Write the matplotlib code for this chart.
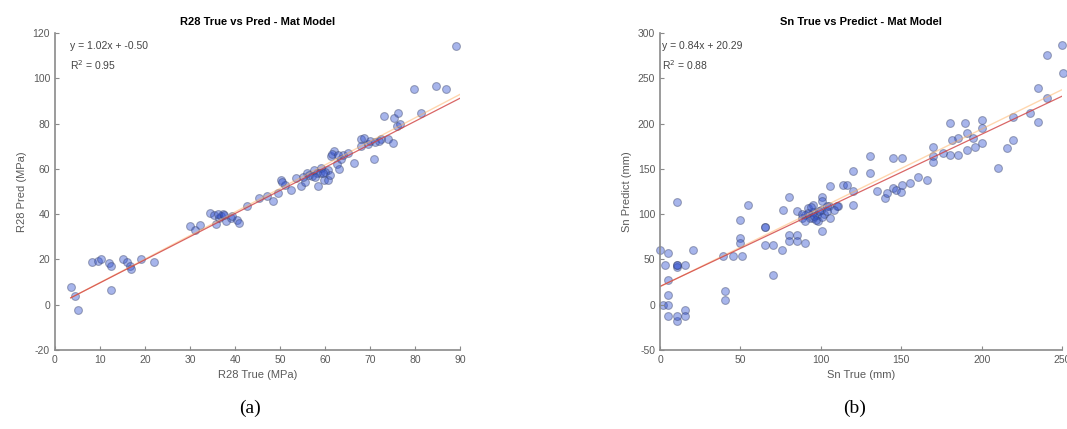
import numpy as np
import matplotlib
matplotlib.use("Agg")
import matplotlib.pyplot as plt

plt.rcParams['font.family'] = ['Liberation Sans', 'DejaVu Sans']
plt.rcParams['axes.unicode_minus'] = False

# R28 data (MPa)
r28_true = [3.5, 4.5, 5.2, 8.2, 9.5, 10.2, 12.0, 12.4, 12.4, 15.2, 16.0, 16.7, 16.9, 19.0, 22.0,
            30.0, 31.0, 32.3, 34.5, 35.3, 35.8, 36.5, 36.8, 37.2, 38.0, 39.0, 39.3, 40.4, 40.8, 42.7,
            45.3, 47.1, 48.5, 49.4, 50.1, 51.0, 52.3, 53.5, 54.6, 55.5, 56.0, 57.0, 57.5, 58.2, 58.3,
            59.0, 59.8, 60.5, 60.5, 61.0, 61.2, 62.0, 62.5, 63.5, 64.0, 65.0, 66.4, 67.9, 68.6, 69.5,
            70.9, 71.0, 72.4, 73.1, 73.9, 75.0, 75.3, 76.0, 76.1, 76.5, 79.8, 81.3, 84.6, 86.9, 89.1,
            36.2, 37.5, 56.5, 58.8, 60.0, 61.5, 62.8, 63.0, 59.5, 57.8, 70.0, 72.0, 68.0, 50.5, 55.0]
r28_pred = [8.0, 4.0, -2.2, 19.0, 19.5, 20.0, 18.5, 17.0, 6.5, 20.2, 19.0, 17.0, 15.7, 20.0, 18.7,
            34.6, 33.0, 35.4, 40.5, 39.8, 35.5, 38.5, 39.0, 40.0, 37.0, 38.4, 39.0, 37.4, 36.0, 43.5,
            47.2, 48.0, 46.0, 49.4, 55.3, 53.0, 50.9, 56.0, 52.3, 54.0, 58.3, 57.0, 59.7, 58.3, 52.3,
            60.5, 55.3, 59.7, 55.3, 57.5, 65.6, 67.8, 62.0, 64.2, 66.0, 67.1, 62.7, 73.0, 73.7, 71.0,
            64.2, 72.0, 73.0, 83.3, 73.0, 71.5, 82.5, 79.0, 84.8, 80.0, 95.1, 84.8, 96.6, 95.1, 114.3,
            40.0, 39.5, 57.5, 58.0, 58.5, 66.5, 66.0, 60.0, 58.0, 56.5, 72.5, 72.5, 70.0, 54.0, 56.5]

# Sn data (mm)
sn_true = [0, 5.2, 3.1, 10.4, 10.4, 15.5, 10.4, 20.3, 5.2, 5.2, 2, 5.2, 5.2, 10.4, 10.4, 15.5, 15.5,
           40.4, 40.4, 39.4, 45.6, 50.8, 49.8, 49.8, 49.8, 54.9, 65.3, 65.3, 70.5, 75.7, 70.5,
           80.4, 80.4, 85, 85, 90.2, 80.4, 76.7, 85, 90.2, 92.2, 95.3, 100.6, 100.6, 105.7, 105.7,
           114, 110.9, 88.1, 93.3, 97.5, 90, 95, 100, 98, 102, 95, 105, 109.9, 103.7, 100.6,
           120.2, 116.1, 120.2, 120.2, 130.6, 130.6, 134.8, 139.9, 141, 145.1, 147, 150, 150.3,
           155.5, 160.6, 166, 145.1, 150.3, 170, 170, 170, 176.2, 180.3, 189.7, 200, 200, 200,
           194.8, 190.7, 185.5, 181.4, 180.3, 185.5, 190.7, 195.9, 210.4, 215.6, 219.7, 219.7,
           230.1, 235.3, 235.3, 240.5, 240.5, 249.8, 250.4,
           92, 96, 99, 101, 104, 88, 94, 97, 108, 65, 10.4]
sn_pred = [60.7, 57, 44, 44, 42, 44, 114, 60.7, 27.6, 11, 0, 0, -12.9, -18.4, -12.9, -5.5, -12.9,
           14.7, 5.5, 53.3, 53.3, 53.3, 73.6, 68, 93.8, 110.4, 86.4, 66.2, 66.2, 60.7, 33.1,
           77.3, 69.9, 77.3, 69.9, 68.1, 119.5, 104.9, 103, 99.3, 106.7, 110.4, 119.5, 80.9, 130.6, 95.7,
           132.5, 108.5, 95.7, 95.7, 99.3, 92, 102, 105, 93, 100, 96, 108.5, 108.5, 108.5, 115,
           147.2, 132.5, 125.1, 110.4, 163.7, 145.4, 125.1, 117.4, 123.3, 128.8, 127, 125, 132.5,
           134, 141.6, 138, 161.8, 161.8, 174.7, 163.7, 158, 167.4, 201.2, 201.2, 204.2, 195, 178.5,
           183.7, 189.2, 183.7, 182, 165.6, 165.6, 171, 174.7, 150.6, 172.6, 182, 207.8,
           211.5, 202.3, 238.8, 228, 276, 287, 255.7,
           101, 98, 104, 97, 103, 100, 108, 94, 105, 86.4, 44]

fig = plt.figure(figsize=(10.67, 4.29), dpi=100)
ax1 = fig.add_axes([0.0515, 0.184, 0.380, 0.739])
ax2 = fig.add_axes([0.6186, 0.184, 0.3768, 0.739])

gray = '#5a5a5a'
face = '#2f4fd0'
edge = '#3a4468'


def style(ax):
    for s in ['top', 'right']:
        ax.spines[s].set_visible(False)
    for s in ['left', 'bottom']:
        ax.spines[s].set_color('#8a8a8a')
        ax.spines[s].set_linewidth(1.2)
    ax.tick_params(direction='in', colors='#8a8a8a', labelcolor=gray, labelsize=7.5, length=3)


# left panel
ax1.scatter(r28_true, r28_pred, s=32, facecolor=face, edgecolor=edge,
            alpha=0.42, linewidths=0.8)
xl = np.array([3.5, 90])
ax1.plot(xl, 1.04 * xl - 0.6, color='#ffb060', lw=1.0, alpha=0.5)
ax1.plot(xl, 1.02 * xl - 0.50, color='#d04040', lw=0.9, alpha=0.8)
ax1.set_xlim(0, 90)
ax1.set_ylim(-20, 120)
ax1.set_xticks(range(0, 91, 10))
ax1.set_yticks(range(-20, 121, 20))
style(ax1)
ax1.set_title('R28 True vs Pred - Mat Model', fontsize=8, fontweight='bold', pad=6)
ax1.set_xlabel('R28 True (MPa)', fontsize=8, color=gray)
ax1.set_ylabel('R28 Pred (MPa)', fontsize=8, color=gray)
ax1.text(0.037, 0.975, 'y = 1.02x + -0.50', transform=ax1.transAxes, fontsize=7.5, color='#444444', va='top')
ax1.text(0.037, 0.92, 'R$^2$ = 0.95', transform=ax1.transAxes, fontsize=7.5, color='#444444', va='top')

# right panel
ax2.scatter(sn_true, sn_pred, s=32, facecolor=face, edgecolor=edge,
            alpha=0.42, linewidths=0.8, clip_on=False)
xr = np.array([0, 250])
ax2.plot(xr, 0.87 * xr + 20.0, color='#ffb060', lw=1.0, alpha=0.5)
ax2.plot(xr, 0.84 * xr + 20.29, color='#d04040', lw=0.9, alpha=0.8)
ax2.set_xlim(0, 250)
ax2.set_ylim(-50, 300)
ax2.set_xticks(range(0, 251, 50))
ax2.set_yticks(range(-50, 301, 50))
style(ax2)
ax2.set_title('Sn True vs Predict - Mat Model', fontsize=8, fontweight='bold', pad=6)
ax2.set_xlabel('Sn True (mm)', fontsize=8, color=gray)
ax2.set_ylabel('Sn Predict (mm)', fontsize=8, color=gray)
ax2.text(0.005, 0.975, 'y = 0.84x + 20.29', transform=ax2.transAxes, fontsize=7.5, color='#444444', va='top')
ax2.text(0.005, 0.92, 'R$^2$ = 0.88', transform=ax2.transAxes, fontsize=7.5, color='#444444', va='top')

# captions
fig.text(250 / 1067, 1 - 408 / 429, '(a)', fontsize=14, family=['Liberation Serif', 'DejaVu Serif'],
         ha='center', va='center')
fig.text(855 / 1067, 1 - 408 / 429, '(b)', fontsize=14, family=['Liberation Serif', 'DejaVu Serif'],
         ha='center', va='center')

fig.savefig('out.png', dpi=100)
